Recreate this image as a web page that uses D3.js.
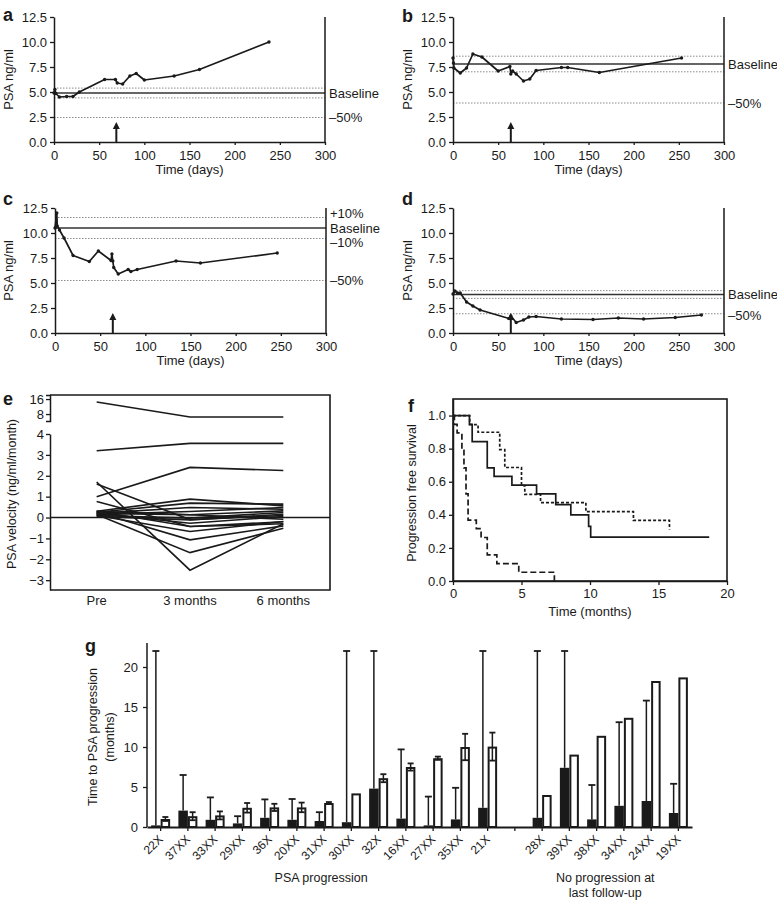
<!DOCTYPE html>
<html><head><meta charset="utf-8">
<script src="https://cdn.jsdelivr.net/npm/d3@7"></script>
<style>
body{margin:0;background:#fff;}
svg text{font-family:"Liberation Sans",Arial,Helvetica,sans-serif;fill:#1a1a1a;}
</style></head><body>
<script>
// ---------------- DATA ----------------
const psaTicks = [0, 2.5, 5, 7.5, 10, 12.5];
const dayTicks = [0, 50, 100, 150, 200, 250, 300];

const aDays = [0, 1, 2, 6, 14, 21, 28, 56, 68, 70, 76, 84, 91, 100, 133, 161, 238];
const aPSA  = [4.9, 5.25, 4.85, 4.5, 4.55, 4.55, 5.0, 6.25, 6.25, 5.9, 5.8, 6.6, 6.85, 6.2, 6.6, 7.25, 10.0];
const aBaseline = 4.9, aArrowDay = 69;

const bDays = [0, 0.5, 1, 8, 15, 22, 32, 50, 63, 64, 66, 70, 78, 85, 92, 120, 127, 162, 253];
const bPSA  = [8.4, 7.9, 7.4, 6.9, 7.4, 8.8, 8.5, 7.1, 7.55, 6.8, 7.1, 6.8, 6.1, 6.3, 7.15, 7.45, 7.45, 6.95, 8.4];
const bBaseline = 7.8, bArrowDay = 64;

const cDays = [0, 2, 2.5, 5, 10, 20, 38, 48, 62, 63, 64, 65, 70, 81, 84, 91, 134, 161, 246];
const cPSA  = [10.5, 12.0, 10.7, 10.3, 9.5, 7.75, 7.15, 8.2, 7.25, 7.9, 7.2, 6.55, 5.9, 6.35, 6.15, 6.35, 7.2, 7.0, 8.0];
const cBaseline = 10.5, cArrowDay = 64;

const dDays = [0, 2, 5, 8, 15, 22, 30, 62, 64, 70, 78, 84, 92, 120, 155, 183, 211, 246, 275];
const dPSA  = [3.9, 4.2, 4.0, 4.0, 3.1, 2.7, 2.3, 1.45, 1.7, 1.05, 1.3, 1.6, 1.65, 1.4, 1.35, 1.5, 1.4, 1.55, 1.8];
const dBaseline = 3.85, dArrowDay = 64;

const arrowTopValue = 2.0;

const eCategories = ["Pre", "3 months", "6 months"];
const eUpperTicks = [16, 8];
const eLowerTicks = [4, 3, 2, 1, 0, -1, -2, -3];
const eVelocity = [
  [14, 7, 7],
  [3.2, 3.55, 3.55],
  [1.0, 2.4, 2.25],
  [1.7, -2.52, -0.3],
  [1.6, -0.1, 0.1],
  [0.77, -0.43, -0.2],
  [0.3, 0.88, 0.56],
  [0.25, 0.69, 0.64],
  [0.2, 0.48, 0.4],
  [0.15, 0.29, 0.48],
  [0.3, 0.13, 0.32],
  [0.1, -0.03, 0.24],
  [0.2, -0.27, 0.05],
  [0.1, -0.67, -0.19],
  [0.25, -1.07, -0.4],
  [0.15, -1.68, -0.51],
  [0.05, -0.11, 0.16],
  [0.2, 0.13, -0.08],
  [0.3, -0.43, -0.3]
];

const fSolidT  = [0, 1.2, 1.4, 2.5, 3.0, 4.3, 6.1, 7.5, 8.6, 9.9, 10.05, 18.7];
const fSolidS  = [1.0, 0.947, 0.842, 0.684, 0.632, 0.579, 0.526, 0.462, 0.40, 0.33, 0.265, 0.265];
const fDottedT = [0, 1.22, 1.83, 3.41, 3.78, 5.0, 5.24, 6.39, 9.7, 13.17, 15.8];
const fDottedS = [1.0, 0.945, 0.899, 0.794, 0.686, 0.577, 0.524, 0.474, 0.419, 0.366, 0.312];
const fDashedT = [0, 0.1, 0.3, 0.65, 0.8, 0.95, 1.1, 1.7, 2.05, 2.5, 3.2, 4.8, 7.4];
const fDashedS = [1.0, 0.947, 0.895, 0.79, 0.684, 0.526, 0.368, 0.316, 0.263, 0.158, 0.105, 0.053, 0];
const fYTicks = [0, 0.2, 0.4, 0.6, 0.8, 1.0];
const fXTicks = [0, 5, 10, 15, 20];

const gProgression   = ["22X","37XX","33XX","29XX","36X","20XX","31XX","30XX","32X","16XX","27XX","35XX","21X"];
const gNoProgression = ["28X","39XX","38XX","34XX","24XX","19XX"];
const gBlack    = [0.2, 2.05, 0.9, 0.45, 1.15, 0.9, 0.75, 0.6, 4.8, 1.05, 0.2, 0.95, 2.4, 1.15, 7.4, 0.95, 2.65, 3.25, 1.75];
const gBlackErr = [22, 6.5, 3.7, 1.35, 3.45, 3.5, 1.85, 22, 22, 9.7, 3.8, 4.9, 22, 22, 22, 5.25, 13.1, 15.8, 5.4];
const gWhite    = [1.0, 1.35, 1.45, 2.4, 2.45, 2.45, 3.0, 4.2, 6.1, 7.5, 8.6, 10.0, 10.05, 4.0, 9.05, 11.4, 13.65, 18.25, 18.7];
const gWhiteErr = [0.25, 0.5, 0.5, 0.6, 0.45, 0.6, 0.12, 0, 0.5, 0.45, 0.2, 1.65, 1.75, 0, 0, 0, 0, 0, 0];
const gYTicks = [0, 5, 10, 15, 20];

// ---------------- DRAW ----------------
const FF = '"Liberation Sans", Arial, Helvetica, sans-serif';
const INK = "#1a1a1a";
const svg = d3.select("body").append("svg").attr("width", 777).attr("height", 902)
  .style("background", "#fff");

function styleAxis(g, fs) {
  g.attr("font-family", FF);
  g.selectAll("path.domain").attr("stroke", INK).attr("stroke-width", 1.5);
  g.selectAll(".tick line").attr("stroke", INK).attr("stroke-width", 1.3);
  g.selectAll(".tick text").attr("font-size", fs).attr("fill", "#222");
}
function letter(x, y, t) {
  svg.append("text").attr("x", x).attr("y", y).attr("font-size", 18).attr("font-weight", "bold").text(t);
}

function timePanel(p) {
  const x = d3.scaleLinear().domain([0, 300]).range([p.left, p.left + 271]);
  const y = d3.scaleLinear().domain([0, 12.5]).range([p.top + 125, p.top]);
  const g = svg.append("g");
  [1.1, 0.9, 0.5].forEach(m => {
    g.append("line").attr("x1", x(0)).attr("x2", x(300))
      .attr("y1", y(p.base * m)).attr("y2", y(p.base * m))
      .attr("stroke", "#8a8a8a").attr("stroke-width", 1).attr("stroke-dasharray", "1.5,1.5");
  });
  g.append("line").attr("x1", x(0)).attr("x2", x(300))
    .attr("y1", y(p.base)).attr("y2", y(p.base)).attr("stroke", "#333").attr("stroke-width", 1.6);

  const ay = g.append("g").attr("transform", `translate(${x(0)},0)`)
    .call(d3.axisLeft(y).tickValues(psaTicks).tickFormat(d3.format(".1f")).tickSize(4).tickSizeOuter(0).tickPadding(3));
  styleAxis(ay, 13);
  const ax = g.append("g").attr("transform", `translate(0,${y(0)})`)
    .call(d3.axisBottom(x).tickValues(dayTicks).tickSize(3).tickSizeOuter(0).tickPadding(6));
  styleAxis(ax, 13);
  g.append("line").attr("x1", x(300)).attr("x2", x(300)).attr("y1", y(0)).attr("y2", y(12.5))
    .attr("stroke", INK).attr("stroke-width", 1.5);

  const pts = d3.zip(p.days, p.psa);
  g.append("path").datum(pts)
    .attr("d", d3.line().x(d => x(d[0])).y(d => y(d[1])))
    .attr("fill", "none").attr("stroke", INK).attr("stroke-width", 1.7).attr("stroke-linejoin", "round");
  g.selectAll("circle.pt").data(pts).join("circle").attr("class", "pt")
    .attr("cx", d => x(d[0])).attr("cy", d => y(d[1])).attr("r", 1.7).attr("fill", INK);

  // arrow
  const ax0 = x(p.arrowDay);
  g.append("line").attr("x1", ax0).attr("x2", ax0).attr("y1", y(0)).attr("y2", y(arrowTopValue) + 5)
    .attr("stroke", INK).attr("stroke-width", 2);
  g.append("path").attr("d", `M${ax0},${y(arrowTopValue)} L${ax0 - 3.5},${y(arrowTopValue) + 7} L${ax0 + 3.5},${y(arrowTopValue) + 7} Z`)
    .attr("fill", INK);

  p.labels.forEach(l => {
    g.append("text").attr("x", x(300) + 4).attr("y", y(p.base * l[1]) + l[2])
      .attr("dy", "0.35em").attr("font-size", 13).text(l[0]);
  });
  g.append("text").attr("x", x(150)).attr("y", y(0) + 32).attr("text-anchor", "middle")
    .attr("font-size", 13).text("Time (days)");
  g.append("text").attr("transform", `translate(${p.yTitleX},${(y(0) + y(12.5)) / 2}) rotate(-90)`)
    .attr("text-anchor", "middle").attr("font-size", 13).text("PSA ng/ml");
  letter(p.letterX, p.letterY, p.id);
}

const std = [["Baseline", 1, 0], ["\u201350%", 0.5, 0]];
timePanel({id: "a", left: 54, top: 17, days: aDays, psa: aPSA, base: aBaseline, arrowDay: aArrowDay,
  labels: std, yTitleX: 13, letterX: 3, letterY: 21});
timePanel({id: "b", left: 453, top: 17, days: bDays, psa: bPSA, base: bBaseline, arrowDay: bArrowDay,
  labels: std, yTitleX: 412, letterX: 402, letterY: 22});
timePanel({id: "c", left: 55, top: 208, days: cDays, psa: cPSA, base: cBaseline, arrowDay: cArrowDay,
  labels: [["+10%", 1.1, -4], ["Baseline", 1, 0], ["\u201310%", 0.9, 4], ["\u201350%", 0.5, 0]],
  yTitleX: 13, letterX: 3, letterY: 205});
timePanel({id: "d", left: 453, top: 208, days: dDays, psa: dPSA, base: dBaseline, arrowDay: dArrowDay,
  labels: [["Baseline", 1, 0], ["\u201350%", 0.5, 2]], yTitleX: 412, letterX: 402, letterY: 205});

// ---------- panel e ----------
(function () {
  const L = 50, R = 330, T = 395, B = 590;
  const xE = d3.scalePoint().domain(eCategories).range([L, R]).padding(0.5);
  const yLow = d3.scaleLinear().domain([-3.47, 4]).range([B, 434]);
  const yUp = d3.scaleLog().base(2).domain([5.8, 19.3]).range([421, T]);
  const yE = v => v > 4 ? yUp(v) : yLow(v);
  const g = svg.append("g");
  const a1 = g.append("g").attr("transform", `translate(${L},0)`)
    .call(d3.axisLeft(yUp).tickValues(eUpperTicks).tickFormat(d3.format("d")).tickSize(4).tickSizeOuter(4).tickPadding(2));
  styleAxis(a1, 13);
  const a2 = g.append("g").attr("transform", `translate(${L},0)`)
    .call(d3.axisLeft(yLow).tickValues(eLowerTicks).tickFormat(d3.format("d")).tickSize(4).tickSizeOuter(0).tickPadding(2));
  styleAxis(a2, 13);
  a2.selectAll(".tick text").text(d => d < 0 ? "\u2212" + Math.abs(d) : d);
  g.append("path").attr("d", `M${L},${T} H${R} V${B} H${L}`).attr("fill", "none")
    .attr("stroke", INK).attr("stroke-width", 1.6);
  g.append("line").attr("x1", L).attr("x2", R).attr("y1", yE(0)).attr("y2", yE(0))
    .attr("stroke", INK).attr("stroke-width", 1.4);
  const line = d3.line().x((d, i) => xE(eCategories[i])).y(d => yE(d));
  g.selectAll("path.vel").data(eVelocity).join("path").attr("class", "vel")
    .attr("d", line).attr("fill", "none").attr("stroke", INK).attr("stroke-width", 1.6);
  g.selectAll("text.cat").data(eCategories).join("text").attr("class", "cat")
    .attr("x", d => xE(d)).attr("y", B + 15).attr("text-anchor", "middle").attr("font-size", 13).text(d => d);
  g.append("text").attr("transform", `translate(16,494) rotate(-90)`).attr("text-anchor", "middle")
    .attr("font-size", 12.5).text("PSA velocity (ng/ml/month)");
  letter(3, 405, "e");
})();

// ---------- panel f ----------
(function () {
  const L = 453, R = 727, T = 399, B = 581;
  const x = d3.scaleLinear().domain([0, 20]).range([L, R]);
  const y = d3.scaleLinear().domain([0, 1.1]).range([B, T]);
  const g = svg.append("g");
  const ay = g.append("g").attr("transform", `translate(${L},0)`)
    .call(d3.axisLeft(y).tickValues(fYTicks).tickFormat(d3.format(".1f")).tickSize(4).tickSizeOuter(0).tickPadding(3));
  styleAxis(ay, 13);
  const ax = g.append("g").attr("transform", `translate(0,${B})`)
    .call(d3.axisBottom(x).tickValues(fXTicks).tickSize(4).tickSizeOuter(0).tickPadding(4));
  styleAxis(ax, 13);
  g.append("rect").attr("x", L).attr("y", T).attr("width", R - L).attr("height", B - T)
    .attr("fill", "none").attr("stroke", INK).attr("stroke-width", 1.6);
  const step = d3.line().curve(d3.curveStepAfter).x(d => x(d[0])).y(d => y(d[1]));
  [[fSolidT, fSolidS, null], [fDottedT, fDottedS, "3,2"], [fDashedT, fDashedS, "6,3"]].forEach(s => {
    g.append("path").datum(d3.zip(s[0], s[1])).attr("d", step).attr("fill", "none")
      .attr("stroke", INK).attr("stroke-width", 1.7).attr("stroke-dasharray", s[2]);
  });
  g.append("text").attr("x", x(10)).attr("y", B + 35).attr("text-anchor", "middle").attr("font-size", 13).text("Time (months)");
  g.append("text").attr("transform", `translate(416,493) rotate(-90)`).attr("text-anchor", "middle")
    .attr("font-size", 12.5).text("Progression free survival");
  letter(408, 412, "f");
})();

// ---------- panel g ----------
(function () {
  const slots = [...gProgression, "gap", ...gNoProgression];
  const patients = [...gProgression, ...gNoProgression];
  const x = d3.scaleBand().domain(slots).range([147, 692]).padding(0);
  const cx = k => x(k) + x.bandwidth() / 2;
  const y = d3.scaleLinear().domain([0, 23]).range([827, 643]);
  const g = svg.append("g");
  const rows = patients.map((k, i) => ({k, b: gBlack[i], be: gBlackErr[i], w: gWhite[i], we: gWhiteErr[i]}));

  rows.forEach(r => {
    const c = cx(r.k) - 4.75;
    g.append("line").attr("x1", c).attr("x2", c).attr("y1", y(r.b)).attr("y2", y(r.be)).attr("stroke", INK).attr("stroke-width", 1.5);
    g.append("line").attr("x1", c - 3.5).attr("x2", c + 3.5).attr("y1", y(r.be)).attr("y2", y(r.be)).attr("stroke", INK).attr("stroke-width", 1.8);
  });
  g.selectAll("rect.blk").data(rows).join("rect").attr("class", "blk")
    .attr("x", d => cx(d.k) - 9.5).attr("width", 9.5)
    .attr("y", d => y(d.b)).attr("height", d => y(0) - y(d.b)).attr("fill", INK);
  g.selectAll("rect.wht").data(rows).join("rect").attr("class", "wht")
    .attr("x", d => cx(d.k) + 1).attr("width", 7.5)
    .attr("y", d => y(d.w) + 1).attr("height", d => y(0) - y(d.w) - 1)
    .attr("fill", "#fff").attr("stroke", INK).attr("stroke-width", 2);
  rows.filter(r => r.we > 0).forEach(r => {
    const c = cx(r.k) + 4.75;
    g.append("line").attr("x1", c).attr("x2", c).attr("y1", y(r.w - r.we)).attr("y2", y(r.w + r.we)).attr("stroke", INK).attr("stroke-width", 1.5);
    [r.w - r.we, r.w + r.we].forEach(v => g.append("line").attr("x1", c - 3).attr("x2", c + 3)
      .attr("y1", y(v)).attr("y2", y(v)).attr("stroke", INK).attr("stroke-width", 1.8));
  });

  const ay = g.append("g").attr("transform", `translate(147,0)`)
    .call(d3.axisLeft(y).tickValues(gYTicks).tickSize(4).tickSizeOuter(0).tickPadding(5));
  styleAxis(ay, 13);
  ay.select("path.domain").attr("d", `M0,${y(0)}V${y(23)}`);
  const ax = g.append("g").attr("transform", `translate(0,${y(0)})`)
    .call(d3.axisBottom(x).tickSize(4).tickSizeOuter(0).tickFormat(""));
  styleAxis(ax, 12);
  ax.select("path.domain").attr("stroke-width", 2);

  g.selectAll("text.pt").data(patients).join("text").attr("class", "pt")
    .attr("transform", d => `translate(${cx(d) + 3},${840}) rotate(-45)`)
    .attr("text-anchor", "end").attr("font-size", 12).text(d => d);

  g.append("text").attr("x", (cx(gProgression[0]) + cx(gProgression[12])) / 2 - 3).attr("y", 882)
    .attr("text-anchor", "middle").attr("font-size", 12.5).text("PSA progression");
  const nc = (cx(gNoProgression[0]) + cx(gNoProgression[5])) / 2 - 5;
  g.append("text").attr("x", nc).attr("y", 882).attr("text-anchor", "middle").attr("font-size", 12.5).text("No progression at");
  g.append("text").attr("x", nc).attr("y", 897).attr("text-anchor", "middle").attr("font-size", 12.5).text("last follow-up");
  g.append("text").attr("transform", `translate(97,737) rotate(-90)`).attr("text-anchor", "middle")
    .attr("font-size", 12.5).text("Time to PSA progression");
  g.append("text").attr("transform", `translate(114,737) rotate(-90)`).attr("text-anchor", "middle")
    .attr("font-size", 12.5).text("(months)");
  letter(85, 652, "g");
})();
</script>
</body></html>
